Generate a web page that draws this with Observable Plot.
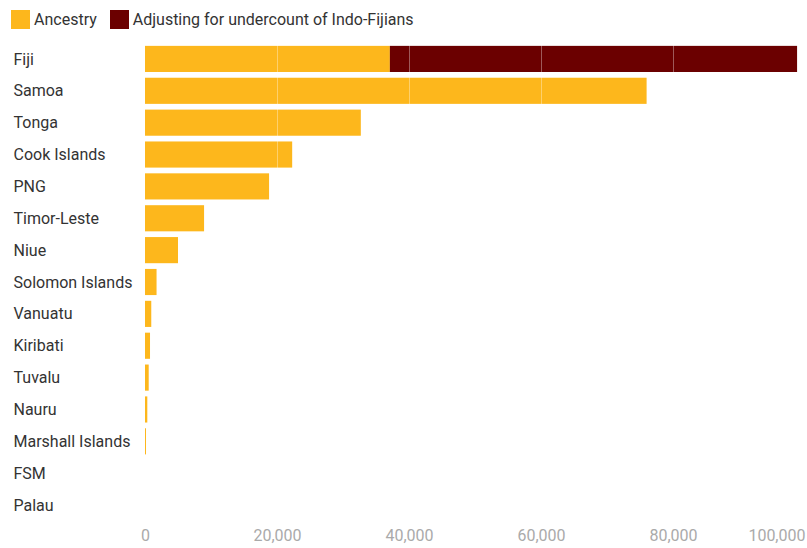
<!DOCTYPE html>
<html>
<head>
<meta charset="utf-8">
<script src="https://cdn.jsdelivr.net/npm/d3@7"></script>
<script src="https://cdn.jsdelivr.net/npm/@observablehq/plot@0.6"></script>
<style>
  html, body { margin: 0; padding: 0; background: #fff; }
  body { width: 807px; height: 548px; overflow: hidden; font-family: Roboto, "Noto Sans", sans-serif; }
  .legend { display: flex; align-items: center; height: 39px; padding-left: 11px; box-sizing: border-box; font-size: 16px; color: #333; }
  .legend .item { display: flex; align-items: center; margin-right: 13px; }
  .legend .sw { width: 19px; height: 19px; margin-right: 4px; }
  #chart svg { display: block; }
</style>
</head>
<body>
<div class="legend" id="legend"></div>
<div id="chart"></div>
<script>
const countries = ["Fiji","Samoa","Tonga","Cook Islands","PNG","Timor-Leste","Niue","Solomon Islands","Vanuatu","Kiribati","Tuvalu","Nauru","Marshall Islands","FSM","Palau"];
const ancestry = [37100, 76000, 32700, 22300, 18800, 8950, 5000, 1750, 950, 760, 560, 350, 150, 0, 0];
const adjusting = [61700, 0, 0, 0, 0, 0, 0, 0, 0, 0, 0, 0, 0, 0, 0];
const seriesNames = ["Ancestry", "Adjusting for undercount of Indo-Fijians"];
const seriesColors = ["#FDB71C", "#6B0000"];
const xTicks = [0, 20000, 40000, 60000, 80000, 100000];

const data = [];
countries.forEach((c, i) => {
  data.push({country: c, series: seriesNames[0], value: ancestry[i]});
  data.push({country: c, series: seriesNames[1], value: adjusting[i]});
});

const legend = document.getElementById("legend");
seriesNames.forEach((s, i) => {
  const it = document.createElement("div");
  it.className = "item";
  it.innerHTML = `<span class="sw" style="background:${seriesColors[i]}"></span><span>${s}</span>`;
  legend.appendChild(it);
});

const chart = Plot.plot({
  width: 807,
  height: 509,
  marginLeft: 145,
  marginRight: 2,
  marginTop: 4,
  marginBottom: 27,
  style: {fontFamily: "Roboto, 'Noto Sans', sans-serif", background: "#fff"},
  x: {domain: [0, 100000]},
  y: {domain: countries, paddingInner: 0.18, paddingOuter: 0.09, round: false},
  color: {domain: seriesNames, range: seriesColors},
  marks: [
    Plot.barX(data, {x: "value", y: "country", fill: "series", order: seriesNames}),
    Plot.gridX({ticks: xTicks.slice(1, -1), stroke: "white", strokeOpacity: 0.35, strokeWidth: 1}),
    Plot.axisY({tickSize: 0, tickPadding: 0, textAnchor: "start", dx: -132, fontSize: 16, color: "#333", label: null}),
    Plot.axisX({ticks: xTicks.slice(0, -1), tickSize: 0, tickPadding: 8, tickFormat: d3.format(","), fontSize: 16, color: "#aaa", label: null}),
    Plot.axisX({ticks: xTicks.slice(-1), tickSize: 0, tickPadding: 8, tickFormat: d3.format(","), fontSize: 16, color: "#aaa", textAnchor: "end", dx: 0, label: null})
  ]
});
document.getElementById("chart").appendChild(chart);
</script>
</body>
</html>
